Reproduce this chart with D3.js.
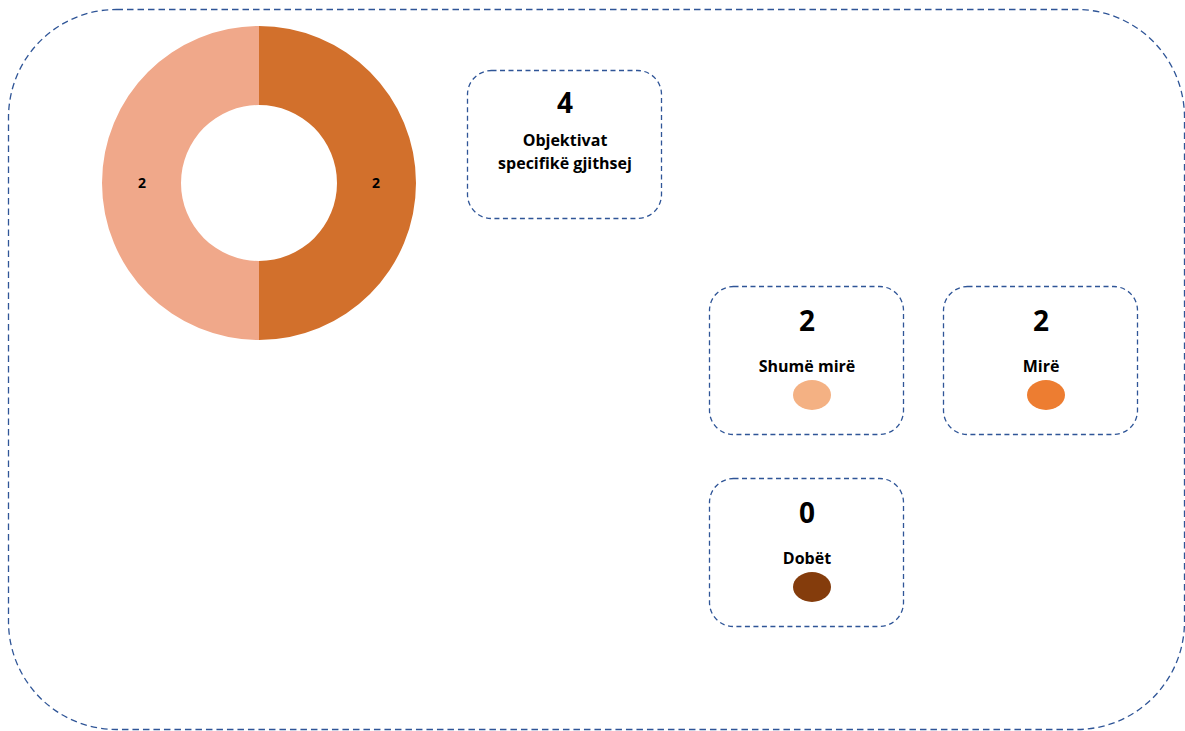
<!DOCTYPE html>
<html>
<head>
<meta charset="utf-8">
<script src="https://cdn.jsdelivr.net/npm/d3@7"></script>
<style>
  body { margin: 0; background: #fff; }
  text { font-family: "Open Sans", "Noto Sans", sans-serif; font-weight: bold; fill: #000; }
</style>
</head>
<body>
<svg id="chart" width="1185" height="731"></svg>
<script>
// data
var categories = ["Shumë mirë", "Mirë", "Dobët"];
var values = [2, 2, 0];
var donutColors = ["#F0A88A", "#D2702C", "#843C0C"];
var dotColors = ["#F4B183", "#ED7D31", "#843C0C"];
var totalLabel = ["Objektivat", "specifikë gjithsej"];

var svg = d3.select("#chart");
var dashColor = "#2F5597";

// outer frame
svg.append("rect")
    .attr("x", 8.5).attr("y", 9.5)
    .attr("width", 1176).attr("height", 720)
    .attr("rx", 108).attr("ry", 108)
    .attr("fill", "none")
    .attr("stroke", dashColor)
    .attr("stroke-width", 1.3)
    .attr("stroke-dasharray", "6.5,4");

// donut
var cx = 259, cy = 183;
var pie = d3.pie().sort(null)
    .startAngle(Math.PI).endAngle(3 * Math.PI)
    .value(function(d) { return d.value; });
var arcs = pie(categories.map(function(c, i) { return {name: c, value: values[i], idx: i}; }));
var arc = d3.arc().innerRadius(78).outerRadius(157);
var labelArc = d3.arc().innerRadius(117).outerRadius(117);

var g = svg.append("g").attr("transform", "translate(" + cx + "," + cy + ")");
g.selectAll("path")
    .data(arcs.filter(function(d) { return d.value > 0; }))
    .enter()
    .append("path")
    .attr("d", arc)
    .attr("fill", function(d) { return donutColors[d.data.idx]; });

g.selectAll("text")
    .data(arcs.filter(function(d) { return d.value > 0; }))
    .enter()
    .append("text")
    .attr("transform", function(d) { return "translate(" + labelArc.centroid(d) + ")"; })
    .attr("text-anchor", "middle")
    .attr("dy", "0.35em")
    .style("font-size", "14px")
    .text(function(d) { return d.value; });

// dashed rounded card
function card(x, y) {
    svg.append("rect")
        .attr("x", x + 0.5).attr("y", y + 0.5)
        .attr("width", 194).attr("height", 148)
        .attr("rx", 24).attr("ry", 24)
        .attr("fill", "none")
        .attr("stroke", dashColor)
        .attr("stroke-width", 1.3)
        .attr("stroke-dasharray", "5,3.5");
}

// total card
var total = d3.sum(values);
card(467, 70);
svg.append("text")
    .attr("x", 565).attr("y", 113)
    .attr("text-anchor", "middle")
    .style("font-size", "28px")
    .text(total);
totalLabel.forEach(function(t, i) {
    svg.append("text")
        .attr("x", 565).attr("y", 146 + i * 23)
        .attr("text-anchor", "middle")
        .style("font-size", "16px")
        .text(t);
});

// category cards
var cardPos = [[709, 286], [943, 286], [709, 478]];
categories.forEach(function(c, i) {
    var x = cardPos[i][0], y = cardPos[i][1];
    var mid = x + 97;
    card(x, y);
    svg.append("text")
        .attr("x", mid + 1).attr("y", y + 45)
        .attr("text-anchor", "middle")
        .style("font-size", "28px")
        .text(values[i]);
    svg.append("text")
        .attr("x", mid + 1).attr("y", y + 86)
        .attr("text-anchor", "middle")
        .style("font-size", "16px")
        .text(c);
    svg.append("ellipse")
        .attr("cx", mid + 6).attr("cy", y + 109)
        .attr("rx", 19).attr("ry", 15)
        .attr("fill", dotColors[i]);
});
</script>
</body>
</html>
